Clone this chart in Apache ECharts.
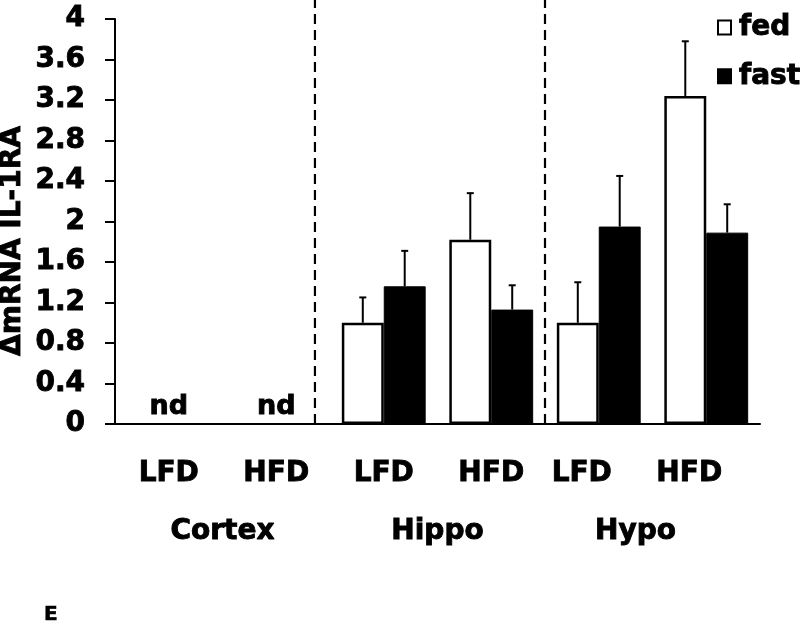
<!DOCTYPE html>
<html><head><meta charset="utf-8">
<script src="https://cdn.jsdelivr.net/npm/echarts@6/dist/echarts.min.js"></script>
<style>html,body{margin:0;padding:0;background:#fff}#c{width:800px;height:627px}</style>
</head><body><div id="c"></div>
<script>
const categories = ['LFD','HFD','LFD','HFD','LFD','HFD'];
const groups = ['Cortex','Hippo','Hypo'];
const fedMeans = [null, null, 1.00, 1.82, 1.00, 3.24];
const fedErrTop = [null, null, 1.25, 2.28, 1.40, 3.78];
const fastMeans = [null, null, 1.36, 1.13, 1.95, 1.89];
const fastErrTop = [null, null, 1.71, 1.37, 2.45, 2.17];
const ndPoints = [[0, 0], [1, 0]];
const yTicks = {min: 0, max: 4, interval: 0.4};
const dividers = [1.86, 4.0];

const FONT = 'DejaVu Sans';
const BARW = 0.39;
const HEAVY = {textBorderColor: '#000', textBorderWidth: 0.9};

function errData(means, tops) {
  return means.map((m, i) => m == null ? null : [i, m, tops[i]]).filter(d => d);
}
function errSeries(name, means, tops, side) {
  return {
    type: 'custom', name: name + '_err', xAxisIndex: 0, yAxisIndex: 0, z: 1,
    data: errData(means, tops),
    renderItem: function (params, api) {
      const i = api.value(0);
      const base = api.coord([i, api.value(1)]);
      const top = api.coord([i, api.value(2)]);
      const band = api.size([1, 0])[0];
      const x = base[0] + side * band * BARW / 2;
      return {
        type: 'group', children: [
          {type: 'line', shape: {x1: x, y1: base[1], x2: x, y2: top[1]}, style: {stroke: '#000', lineWidth: 2}},
          {type: 'line', shape: {x1: x - 3.5, y1: top[1], x2: x + 3.5, y2: top[1]}, style: {stroke: '#000', lineWidth: 2}}
        ]
      };
    }
  };
}

const labelRich = {
  n: Object.assign({color: '#000', fontFamily: FONT, fontWeight: 'bold', fontSize: 28}, HEAVY),
  s: Object.assign({color: '#000', fontFamily: FONT, fontWeight: 'bold', fontSize: 28, padding: [0, 34, 0, 0]}, HEAVY)
};

const chart = echarts.init(document.getElementById('c'), null, {renderer: 'canvas'});
chart.setOption({
  backgroundColor: '#fff',
  animation: false,
  grid: {left: 115, right: 40, top: 19, bottom: 203, containLabel: false},
  legend: {
    orient: 'vertical', left: 712, top: 8, itemWidth: 13, itemHeight: 14, itemGap: 20,
    icon: 'rect',
    data: ['fed', 'fast'],
    textStyle: Object.assign({fontFamily: FONT, fontWeight: 'bold', fontSize: 28, color: '#000', padding: [0, 0, 0, 3]}, HEAVY)
  },
  xAxis: [
    {
      type: 'category', data: categories, position: 'bottom',
      axisLine: {lineStyle: {color: '#000', width: 2}},
      axisTick: {show: false},
      axisLabel: {
        margin: 36, interval: 0,
        formatter: (v, i) => (i >= 4 ? '{s|' : '{n|') + v + '}',
        rich: labelRich
      }
    },
    {type: 'value', min: 0, max: 6, show: false},
    {
      type: 'category', data: groups, position: 'bottom', gridIndex: 0,
      axisLine: {show: false}, axisTick: {show: false},
      axisLabel: {margin: 94, interval: 0,
        formatter: (v, i) => (i >= 2 ? '{s|' : '{n|') + v + '}',
        rich: labelRich}
    }
  ],
  yAxis: {
    type: 'value', min: yTicks.min, max: yTicks.max, interval: yTicks.interval,
    axisLine: {show: true, lineStyle: {color: '#000', width: 2}},
    axisTick: {show: true, inside: false, length: 10, lineStyle: {color: '#000', width: 2}},
    splitLine: {show: false},
    axisLabel: Object.assign({margin: 30, color: '#000', fontFamily: FONT, fontWeight: 'bold', fontSize: 28}, HEAVY)
  },
  series: [
    {
      name: 'fed', type: 'bar', data: fedMeans, barWidth: (BARW * 100) + '%', barGap: '0%',
      itemStyle: {color: '#fff', borderColor: '#000', borderWidth: 2.5}, z: 2
    },
    {
      name: 'fast', type: 'bar', data: fastMeans, barWidth: (BARW * 100) + '%', barGap: '0%',
      itemStyle: {color: '#000', borderColor: '#000', borderWidth: 1}, z: 2
    },
    errSeries('fed', fedMeans, fedErrTop, -1),
    errSeries('fast', fastMeans, fastErrTop, 1),
    {
      type: 'scatter', data: ndPoints, symbolSize: 0, xAxisIndex: 0,
      itemStyle: {opacity: 1, color: '#000'},
      label: Object.assign({show: true, position: 'top', distance: 4, formatter: 'nd',
        color: '#000', opacity: 1, fontFamily: FONT, fontWeight: 'bold', fontSize: 27}, HEAVY)
    },
    {
      type: 'custom', xAxisIndex: 1, yAxisIndex: 0, clip: false, z: 0,
      data: dividers.map(v => [v]),
      renderItem: function (params, api) {
        const b = api.coord([api.value(0), 0]);
        const t = api.coord([api.value(0), 4.19]);
        return {type: 'line', shape: {x1: b[0], y1: b[1], x2: t[0], y2: t[1]},
          style: {stroke: '#000', lineWidth: 2.2, lineDash: [10, 6]}};
      }
    }
  ],
  graphic: [
    {type: 'text', x: 13, y: 241, rotation: Math.PI / 2,
      style: {text: 'ΔmRNA IL-1RA', fontFamily: FONT, fontWeight: 'bold', fontSize: 28, fill: '#000',
        stroke: '#000', lineWidth: 0.9, textAlign: 'center', textVerticalAlign: 'middle'}},
    {type: 'text', x: 44, y: 605,
      style: {text: 'E', fontFamily: FONT, fontWeight: 'bold', fontSize: 20, fill: '#000', stroke: '#000', lineWidth: 0.6}}
  ]
});
</script></body></html>
